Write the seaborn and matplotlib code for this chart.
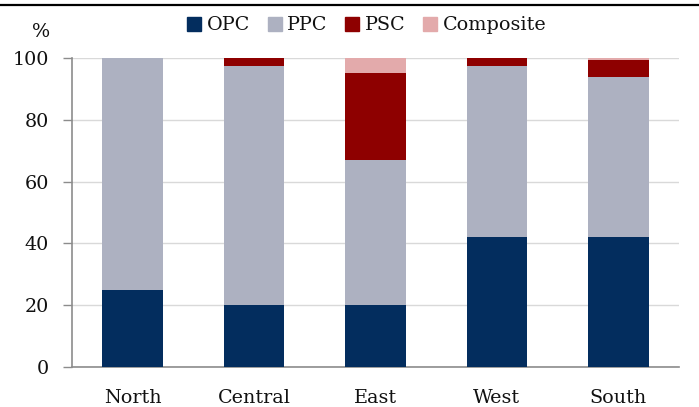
import numpy as np
import pandas as pd
import matplotlib
matplotlib.use("Agg")
import matplotlib.pyplot as plt
from matplotlib.lines import Line2D
import seaborn as sns

regions = ["North", "Central", "East", "West", "South"]
opc = [25, 20, 20, 42, 42]
ppc = [75, 77.5, 47, 55.5, 52]
psc = [0, 2.5, 28, 2.5, 5.3]
composite = [0, 0, 5, 0, 0.7]

series_names = ["OPC", "PPC", "PSC", "Composite"]
series_colors = ["#032d5e", "#adb1c1", "#8e0000", "#e3aaab"]
yticks = [0, 20, 40, 60, 80, 100]

sns.set_theme(style="white")
plt.rcParams["font.family"] = ["DejaVu Serif"]
plt.rcParams["font.size"] = 13.8

df = pd.DataFrame({"region": regions, "OPC": opc, "PPC": ppc,
                   "PSC": psc, "Composite": composite})
# cumulative tops, drawn from the highest layer down so each layer overlays
cum = df[series_names].cumsum(axis=1)
cum["region"] = df["region"]

fig = plt.figure(figsize=(6.99, 4.07), dpi=100)
ax = fig.add_axes([72 / 699, 1 - 367 / 407, 607 / 699, 309 / 407])

for name, color in reversed(list(zip(series_names, series_colors))):
    sns.barplot(data=cum, x="region", y=name, order=regions, color=color,
                width=0.5, saturation=1, ax=ax, zorder=3, linewidth=0)

ax.set_ylim(0, 100)
ax.set_xlim(-0.5, 4.5)
ax.set_yticks(yticks)
ax.set_xlabel("")
ax.set_ylabel("")
ax.yaxis.grid(True, color="#d9d9d9", linewidth=1, zorder=0)
ax.set_axisbelow(True)

for side in ["top", "right"]:
    ax.spines[side].set_visible(False)
for side in ["left", "bottom"]:
    ax.spines[side].set_color("#8c8c8c")
    ax.spines[side].set_linewidth(1.2)

ax.tick_params(axis="y", length=6.5, width=1, color="#8c8c8c", pad=10,
               labelsize=13.8, labelcolor="#111111", left=True)
ax.tick_params(axis="x", length=0, pad=15.5, labelsize=13.8, labelcolor="#111111")

fig.text(41 / 699, 1 - 32 / 407, "%", ha="center", va="center",
         fontsize=13.8, color="#111111")

handles = [Line2D([0], [0], marker="s", linestyle="none", markersize=9.5,
                  markerfacecolor=c, markeredgecolor=c) for c in series_colors]
fig.legend(handles, series_names, loc="center", ncol=4,
           bbox_to_anchor=(367 / 699, 1 - 25.5 / 407), frameon=False,
           handlelength=0.7, handletextpad=0.3, columnspacing=0.95,
           fontsize=13.8, labelcolor="#111111", borderaxespad=0, borderpad=0)

# header rule across the top
fig.add_artist(Line2D([0, 1], [1 - 4.5 / 407, 1 - 4.5 / 407],
                      transform=fig.transFigure, color="black", linewidth=1.6))

fig.savefig("out.png", dpi=100)
